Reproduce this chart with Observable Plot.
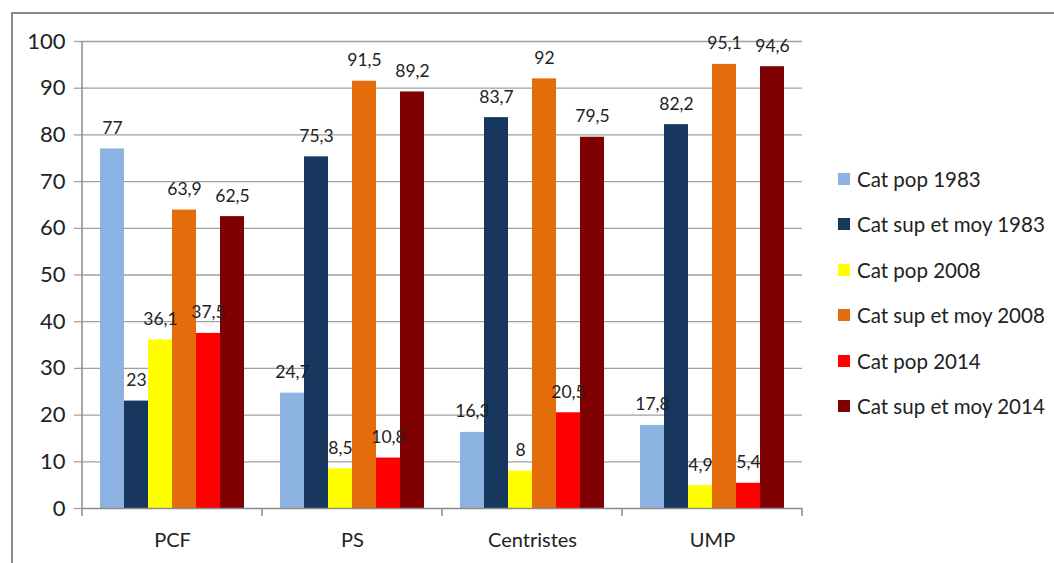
<!DOCTYPE html>
<html><head><meta charset="utf-8">
<script src="https://cdn.jsdelivr.net/npm/d3@7"></script>
<script src="https://cdn.jsdelivr.net/npm/@observablehq/plot@0.6"></script>
<style>
body{margin:0;background:#fff;}
#wrap{position:relative;width:1054px;height:563px;overflow:hidden;font-family:Lato,"Open Sans",sans-serif;background:#fff;}
#frame{position:absolute;left:11px;top:12px;width:1200px;height:700px;border-left:2px solid #8a8a8a;border-top:2px solid #8a8a8a;pointer-events:none;}
#chart{position:absolute;left:0;top:0;}
#legend{position:absolute;left:838px;top:156px;}
.row{display:flex;align-items:center;height:45.5px;font-size:20.5px;color:#222;white-space:nowrap;}
.sw{width:12px;height:12px;margin-right:7px;}
</style></head>
<body><div id="wrap"><div id="chart"></div><div id="legend"></div><div id="frame"></div></div>
<script>
const groups = ["PCF", "PS", "Centristes", "UMP"];
const series = ["Cat pop 1983", "Cat sup et moy 1983", "Cat pop 2008", "Cat sup et moy 2008", "Cat pop 2014", "Cat sup et moy 2014"];
const colors = ["#8db3e2", "#17375e", "#ffff00", "#e46c0a", "#ff0000", "#7f0000"];
const catPop1983 = [77, 24.7, 16.3, 17.8];
const catSup1983 = [23, 75.3, 83.7, 82.2];
const catPop2008 = [36.1, 8.5, 8, 4.9];
const catSup2008 = [63.9, 91.5, 92, 95.1];
const catPop2014 = [37.5, 10.8, 20.5, 5.4];
const catSup2014 = [62.5, 89.2, 79.5, 94.6];
const yTicks = [0, 10, 20, 30, 40, 50, 60, 70, 80, 90, 100];

const seriesValues = [catPop1983, catSup1983, catPop2008, catSup2008, catPop2014, catSup2014];
const data = [];
groups.forEach((g, gi) => series.forEach((s, si) => data.push({group: g, series: s, value: seriesValues[si][gi]})));
const fmt = v => String(v).replace(".", ",");

const plot = Plot.plot({
  width: 1054, height: 563,
  marginLeft: 80, marginRight: 251, marginTop: 41, marginBottom: 55,
  fx: {domain: groups, padding: 0, label: null},
  x: {domain: series, paddingInner: 0, paddingOuter: 0.74, axis: null},
  y: {domain: [0, 100], label: null},
  color: {domain: series, range: colors},
  style: {fontFamily: "Lato, 'Open Sans', sans-serif", fontSize: "20px", color: "#222", background: "transparent"},
  marks: [
    Plot.gridY(yTicks.slice(1), {stroke: "#a0a0a0", strokeOpacity: 1, strokeWidth: 1.3}),
    Plot.axisY(yTicks, {tickSize: 8, tickPadding: 9, fontSize: 22, stroke: "#a0a0a0", strokeWidth: 1.3, fill: "#222", label: null}),
    Plot.barY(data, {fx: "group", x: "series", y: "value", fill: "series"}),
    Plot.text(data, {fx: "group", x: "series", y: "value", text: d => fmt(d.value), dy: -15, lineAnchor: "bottom", fontSize: 17.5, fill: "#222"}),
    Plot.ruleY([0], {stroke: "#8c8c8c", strokeWidth: 1.5}),
    Plot.axisFx({anchor: "bottom", tickSize: 0, tickPadding: 24, fontSize: 20, fill: "#222", label: null})
  ]
});

// Excel-style axis line and category boundary ticks, positioned with the plot's own scales
const fx = plot.scale("fx"), y = plot.scale("y");
const y0 = y.apply(0), yTop = y.apply(100);
const bounds = groups.map(g => fx.apply(g)).concat([fx.apply(groups[groups.length - 1]) + fx.bandwidth]);
const g = d3.select(plot).append("g").attr("stroke", "#8c8c8c").attr("stroke-width", 1.5);
g.append("line").attr("x1", bounds[0]).attr("x2", bounds[0]).attr("y1", yTop).attr("y2", y0 + 8);
bounds.slice(1).forEach(b => g.append("line").attr("x1", b).attr("x2", b).attr("y1", y0).attr("y2", y0 + 8));

document.getElementById("chart").appendChild(plot);

const legend = d3.select("#legend");
series.forEach((s, i) => {
  const r = legend.append("div").attr("class", "row");
  r.append("div").attr("class", "sw").style("background", colors[i]);
  r.append("span").text(s);
});
</script>
</body></html>
